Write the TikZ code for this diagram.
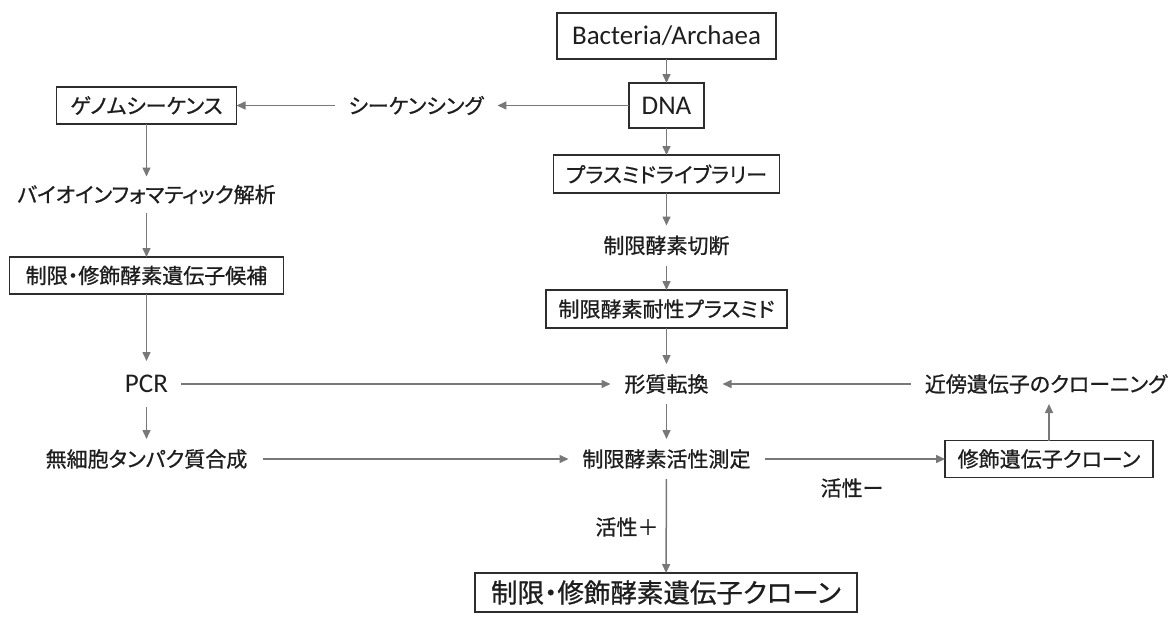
\documentclass[tikz,border=0pt]{standalone}
\usepackage{fontspec}
\setmainfont{Carlito}
\newfontfamily\jp{Noto Sans CJK JP}[RawFeature=+palt,FakeBold=0.8]
\usetikzlibrary{arrows.meta}
\definecolor{linegray}{RGB}{120,120,120}
\definecolor{ink}{RGB}{30,30,30}
\definecolor{boxline}{RGB}{45,45,45}
\begin{document}
\begin{tikzpicture}[x=1pt,y=-1pt,
  every node/.style={text=ink, inner sep=0pt, outer sep=0pt},
  jf/.style={font=\jp\fontsize{21}{25}\selectfont},
  lat/.style={font=\fontsize{27}{31}\selectfont},
  lbl/.style={minimum height=40pt, inner xsep=14pt},
  boxed/.style={draw=boxline, line width=1.2pt},
  arr/.style={draw=linegray, line width=1.5pt, -{Triangle[length=9pt,width=8pt]}}]
\useasboundingbox (0,0) rectangle (1170,616);
% nodes
\node[boxed,lat,minimum width=219pt,minimum height=46pt] (bact) at (666.5,36) {Bacteria/Archaea};
\node[boxed,lat,minimum width=75pt,minimum height=45pt] (dna) at (666.5,105.5) {DNA};
\node[jf,lbl] (seq) at (416,105.5) {シーケンシング};
\node[boxed,jf,minimum width=180pt,minimum height=37pt] (genome) at (146.5,105.5) {ゲノムシーケンス};
\node[jf,lbl,minimum height=36pt] (bio) at (146.5,194.5) {バイオインフォマティック解析};
\node[boxed,jf,minimum width=274pt,minimum height=37pt] (cand) at (146.5,275.5) {制限・修飾酵素遺伝子候補};
\node[lat,minimum height=46pt,inner xsep=13pt] (pcr) at (146.5,384) {PCR};
\node[jf,lbl,inner xsep=16pt] (cellfree) at (146.5,459) {無細胞タンパク質合成};
\node[boxed,jf,minimum width=226pt,minimum height=38pt] (plib) at (666.5,174) {プラスミドライブラリー};
\node[jf,lbl] (cut) at (666.5,245.5) {制限酵素切断};
\node[boxed,jf,minimum width=241pt,minimum height=38pt] (resist) at (666.5,309) {制限酵素耐性プラスミド};
\node[jf,lbl] (trans) at (666.5,384) {形質転換};
\node[jf,lbl] (assay) at (666.5,459) {制限酵素活性測定};
\node[boxed,jf,minimum width=208pt,minimum height=37pt] (mod) at (1049,459) {修飾遺伝子クローン};
\node[jf,lbl,inner xsep=14pt] (near) at (1046,384) {近傍遺伝子のクローニング};
\node[boxed,font=\jp\fontsize{26.5}{31}\selectfont,minimum width=382pt,minimum height=39pt] (final) at (666,592.5) {制限・修飾酵素遺伝子クローン};
\node[jf] (plus) at (627,527) {活性＋};
\node[jf] (minus) at (852,488) {活性ー};
% connectors
\draw[arr] (bact) -- (dna);
\draw[arr] (dna) -- (seq);
\draw[arr] (seq) -- (genome);
\draw[arr] (genome) -- (bio);
\draw[arr] (bio) -- (cand);
\draw[arr] (cand) -- (pcr);
\draw[arr] (pcr) -- (cellfree);
\draw[arr] (pcr) -- (trans);
\draw[arr] (cellfree) -- (assay);
\draw[arr] (dna) -- (plib);
\draw[arr] (plib) -- (cut);
\draw[arr] (cut) -- (resist);
\draw[arr] (resist) -- (trans);
\draw[arr] (trans) -- (assay);
\draw[arr] (near) -- (trans);
\draw[arr] (assay) -- (mod);
\draw[arr] (mod.north) -- (mod.north |- near.south);
\draw[arr] (assay) -- (final);
\end{tikzpicture}
\end{document}
